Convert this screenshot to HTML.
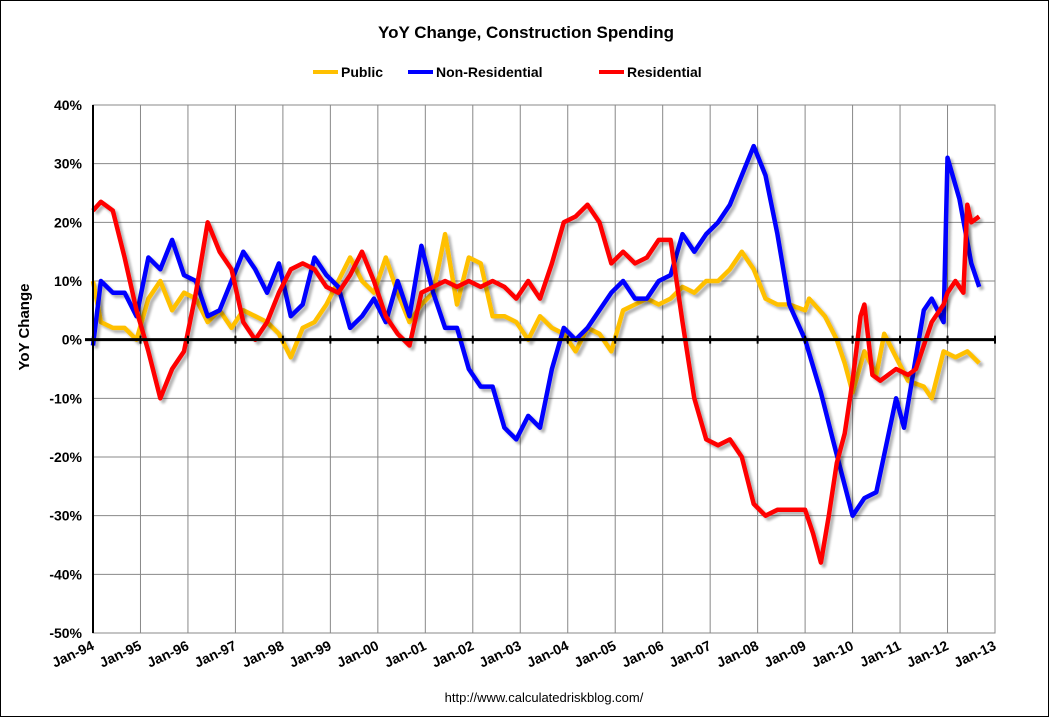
<!DOCTYPE html>
<html><head><meta charset="utf-8"><style>
body{margin:0;background:#fff;}
svg{display:block;font-family:"Liberation Sans",Arial,sans-serif;}
</style></head><body>
<svg id="chart" width="1049" height="717" viewBox="0 0 1049 717">
<defs><filter id="sh" x="-5%" y="-5%" width="110%" height="110%"><feGaussianBlur in="SourceAlpha" stdDeviation="1.2"/><feOffset dx="3" dy="3"/><feComponentTransfer><feFuncA type="linear" slope="0.3"/></feComponentTransfer><feMerge><feMergeNode/><feMergeNode in="SourceGraphic"/></feMerge></filter></defs>
<rect x="0.5" y="0.5" width="1048" height="716" fill="#fff" stroke="#000"/>
<text x="526" y="38" text-anchor="middle" font-size="17" font-weight="bold">YoY Change,  Construction Spending</text>
<g font-size="14" font-weight="bold">
<g><line x1="313" y1="72" x2="338" y2="72" stroke="#FFC000" stroke-width="4"/><text x="341" y="77">Public</text></g>
<g><line x1="408" y1="72" x2="433" y2="72" stroke="#0000FF" stroke-width="4"/><text x="436" y="77">Non-Residential</text></g>
<g><line x1="599" y1="72" x2="624" y2="72" stroke="#FF0000" stroke-width="4"/><text x="627" y="77">Residential</text></g>
</g>
<text transform="translate(29,327) rotate(-90)" text-anchor="middle" font-size="15" font-weight="bold">YoY Change</text>
<g id="grid"></g><g id="series"></g><g id="axes"></g>
<text x="544" y="702" text-anchor="middle" font-size="13">http://www.calculatedriskblog.com/</text>
</svg>
<script>
const yTicks=[40,30,20,10,0,-10,-20,-30,-40,-50];
const xLabels=["Jan-94","Jan-95","Jan-96","Jan-97","Jan-98","Jan-99","Jan-00","Jan-01","Jan-02","Jan-03","Jan-04","Jan-05","Jan-06","Jan-07","Jan-08","Jan-09","Jan-10","Jan-11","Jan-12","Jan-13"];
// month index from Jan-94 (quarterly through Jun-08)
const qMonths=[0,2,5,8,11,14,17,20,23,26,29,32,35,38,41,44,47,50,53,56,59,62,65,68,71,74,77,80,83,86,89,92,95,98,101,104,107,110,113,116,119,122,125,128,131,134,137,140,143,146,149,152,155,158,161,164,167,170,173];
const resLateMonths=[176,180,182,184,186,188,190,192,194,195,197,199,203,206,208,210,212,215,216,218,220,221,222,224];
const nonResLateMonths=[176,180,184,187,192,195,198,203,205,210,212,215,216,219,222,224];
const pubLateMonths=[176,180,181,185,188,190,192,195,198,200,203,206,210,212,215,218,221,224];
const residential=[22,23.5,22,14,5,-2,-10,-5,-2,8,20,15,12,3,0,3,8,12,13,12,9,8,11,15,10,4,1,-1,8,9,10,9,10,9,10,9,7,10,7,13,20,21,23,20,13,15,13,14,17,17,3,-10,-17,-18,-17,-20,-28,-30,-29,
 -29,-29,-33,-38,-30,-21,-16,-7,4,6,-6,-7,-5,-6,-5,-1,3,6,8,10,8,23,20,21];
const nonResidential=[-1,10,8,8,4,14,12,17,11,10,4,5,10,15,12,8,13,4,6,14,11,9,2,4,7,3,10,4,16,8,2,2,-5,-8,-8,-15,-17,-13,-15,-5,2,0,2,5,8,10,7,7,10,11,18,15,18,20,23,28,33,28,18,
 6,0,-9,-17,-30,-27,-26,-10,-15,5,7,3,31,24,13,9];
const publicSpending=[10,3,2,2,0,7,10,5,8,7,3,5,2,5,4,3,1,-3,2,3,6,10,14,10,8,14,8,3,6,8,18,6,14,13,4,4,3,0,4,2,1,-2,2,1,-2,5,6,7,6,7,9,8,10,10,12,15,12,7,6,
 6,5,7,4,0,-4,-9,-2,-6,1,-3,-7,-8,-10,-2,-3,-2,-4];
const X0=93,X1=995,Y0=105,Y1=633;
const xs=m=>X0+(X1-X0)*m/228;
const ys=v=>Y0+(Y1-Y0)*(40-v)/90;
const NS="http://www.w3.org/2000/svg";
function mk(tag,attrs,parent){const e=document.createElementNS(NS,tag);for(const k in attrs)e.setAttribute(k,attrs[k]);parent.appendChild(e);return e;}
const grid=document.getElementById('grid'),axes=document.getElementById('axes'),ser=document.getElementById('series');
yTicks.forEach(v=>{
 const l=mk('line',{x1:X0,x2:X1,y1:ys(v),y2:ys(v),stroke:'#888','stroke-width':1},grid);
 
 
 const t=mk('text',{x:82,y:ys(v)+5,'text-anchor':'end','font-size':14,'font-weight':'bold'},axes);
 t.textContent=v+'%';
 
 
});
xLabels.forEach((lab,i)=>{
 const x=xs(i*12);
 const l=mk('line',{x1:x,x2:x,y1:Y0,y2:Y1,stroke:'#888','stroke-width':1},grid);
 
 
 const tk=mk('line',{x1:x,x2:x,y1:ys(0)-4,y2:ys(0)+4,stroke:'#000','stroke-width':2},axes);
 
 
 const t=mk('text',{transform:`translate(${x+2},${Y1+16}) rotate(-25)`,'text-anchor':'end','font-size':14,'font-weight':'bold'},axes);
 t.textContent=lab;
 
 
});
const fr=mk('rect',{x:X0,y:Y0,width:X1-X0,height:Y1-Y0,fill:'none',stroke:'#888'},grid);


const ya=mk('line',{x1:X0,x2:X0,y1:Y0,y2:Y1,stroke:'#000','stroke-width':2},axes);


const za=mk('line',{x1:X0-8,x2:X1,y1:ys(0),y2:ys(0),stroke:'#000','stroke-width':3},axes);


function draw(vals,months,color,name){
 const d=vals.map((v,i)=>(i?'L':'M')+xs(months[i]).toFixed(1)+','+ys(v).toFixed(1)).join(' ');
 const p=mk('path',{d:d,fill:'none',stroke:color,'stroke-width':4.5,'stroke-linejoin':'round',filter:'url(#sh)'},ser);
 
 
}
draw(publicSpending,qMonths.concat(pubLateMonths),'#FFC000','public-line');
draw(nonResidential,qMonths.concat(nonResLateMonths),'#0000FF','non-residential-line');
draw(residential,qMonths.concat(resLateMonths),'#FF0000','residential-line');
</script>
</body></html>
